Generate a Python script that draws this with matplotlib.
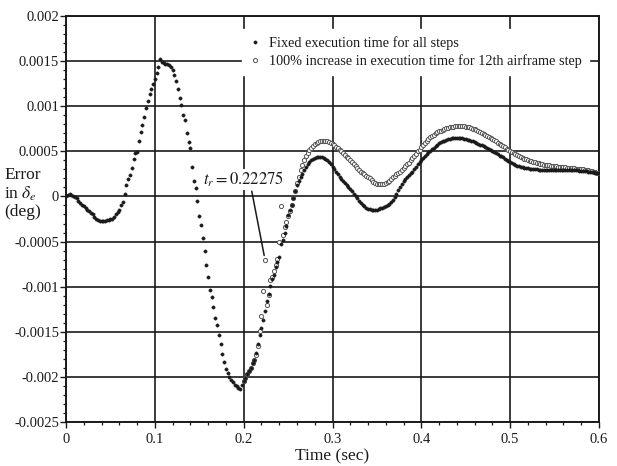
import numpy as np
import matplotlib
matplotlib.use("Agg")
import matplotlib.pyplot as plt

# ---------------- data (values in units of 1e-4 deg) ----------------
t_start_fixed = 0.0
dt = 0.002
fixed_e4 = [
    0.0, 0.15, 0.25, 0.2, 0.1, -0.05, -0.2, -0.45, -0.7, -0.9,
    -1.05, -1.25, -1.45, -1.6, -1.8, -2.0, -2.3, -2.5, -2.65, -2.68,
    -2.7, -2.7, -2.68, -2.66, -2.62, -2.55, -2.45, -2.25, -2.0, -1.75,
    -1.45, -1.0, -0.65, 0.3, 1.3, 1.9, 2.4, 3.1, 4.1, 4.8,
    4.9, 6.2, 7.1, 7.9, 8.8, 9.8, 10.6, 11.3, 11.9, 12.5,
    13.0, 13.7, 14.3, 15.2, 14.9, 14.75, 14.7, 14.65, 14.55, 14.4,
    14.0, 13.5, 12.8, 11.9, 10.9, 10.1, 9.0, 8.5, 7.0, 6.0,
    5.4, 3.3, 1.7, 0.9, -0.5, -2.2, -3.2, -4.6, -6.1, -7.6,
    -8.9, -10.4, -11.1, -12.3, -13.5, -14.3, -15.4, -16.4, -17.5, -18.4,
    -19.1, -19.6, -20.0, -20.3, -20.6, -20.9, -21.0, -21.2, -21.3, -20.9,
    -20.5, -20.1, -19.7, -19.4, -19.0, -18.5, -18.1, -17.4, -16.4, -15.4,
    -14.6, -13.7, -12.7, -11.6, -10.8, -9.9, -9.1, -8.7, -7.8, -7.3,
    -6.7, -5.3, -4.8, -4.1, -3.3, -2.1, -1.5, -0.9, -0.2, 0.6,
    1.3, 1.75, 2.15, 2.5, 2.9, 3.25, 3.55, 3.85, 4.05, 4.15,
    4.25, 4.35, 4.4, 4.42, 4.4, 4.3, 4.2, 4.05, 3.85, 3.55,
    3.3, 3.0, 2.75, 2.45, 2.2, 1.95, 1.7, 1.5, 1.25, 1.05,
    0.8, 0.55, 0.3, 0.05, -0.2, -0.45, -0.7, -0.95, -1.1, -1.25,
    -1.35, -1.42, -1.46, -1.48, -1.48, -1.45, -1.4, -1.33, -1.25, -1.15,
    -1.1, -0.95, -0.8, -0.6, -0.4, -0.05, 0.3, 0.7, 1.1, 1.4,
    1.7, 1.95, 2.15, 2.35, 2.55, 2.75, 3.0, 3.3, 3.55, 3.85,
    4.05, 4.3, 4.5, 4.7, 4.9, 5.05, 5.25, 5.4, 5.6, 5.75,
    5.9, 6.0, 6.1, 6.2, 6.3, 6.35, 6.4, 6.45, 6.48, 6.5,
    6.5, 6.5, 6.48, 6.45, 6.4, 6.35, 6.3, 6.25, 6.15, 6.1,
    6.05, 5.95, 5.85, 5.75, 5.65, 5.55, 5.45, 5.35, 5.25, 5.1,
    5.0, 4.9, 4.8, 4.65, 4.5, 4.45, 4.35, 4.2, 4.05, 3.9,
    3.8, 3.7, 3.6, 3.5, 3.42, 3.35, 3.3, 3.25, 3.2, 3.15,
    3.1, 3.08, 3.05, 3.03, 3.0, 3.0, 2.98, 2.98, 2.97, 2.97,
    2.97, 2.97, 2.97, 2.98, 2.98, 2.98, 2.98, 2.98, 2.98, 2.97,
    2.97, 2.96, 2.95, 2.95, 2.94, 2.93, 2.92, 2.9, 2.88, 2.86,
    2.84, 2.82, 2.8, 2.77, 2.75, 2.72, 2.7, 2.67, 2.64, 2.62,
    2.6,
]

t_start_incr = 0.200
incr_e4 = [
    -20.5, -20.1, -19.7, -19.4, -19.0, -18.5, -18.1, -17.6, -16.6, -14.9,
    -13.3, -10.5, -7.0, -12.0, -10.9, -9.3, -8.9, -8.3, -7.6, -6.9,
    -5.0, -1.1, -4.3, -3.4, -2.8, -2.2, -1.6, -1.0, -0.2, 0.6,
    1.5, 2.2, 2.9, 3.5, 4.0, 4.45, 4.8, 5.1, 5.35, 5.6,
    5.8, 5.95, 6.05, 6.1, 6.15, 6.2, 6.2, 6.15, 6.05, 5.95,
    5.8, 5.65, 5.5, 5.35, 5.15, 5.0, 4.8, 4.6, 4.4, 4.25,
    4.0, 3.8, 3.6, 3.35, 3.15, 2.95, 2.75, 2.6, 2.45, 2.3,
    2.2, 2.0, 1.8, 1.6, 1.5, 1.4, 1.37, 1.37, 1.4, 1.43,
    1.48, 1.6, 1.75, 1.95, 2.1, 2.3, 2.45, 2.6, 2.75, 2.95,
    3.15, 3.35, 3.55, 3.75, 4.0, 4.25, 4.5, 4.75, 5.0, 5.2,
    5.45, 5.7, 5.95, 6.15, 6.35, 6.55, 6.7, 6.85, 7.0, 7.1,
    7.2, 7.3, 7.4, 7.5, 7.55, 7.6, 7.65, 7.7, 7.75, 7.8,
    7.82, 7.83, 7.83, 7.8, 7.78, 7.75, 7.7, 7.65, 7.6, 7.52,
    7.45, 7.35, 7.25, 7.15, 7.05, 6.95, 6.85, 6.72, 6.6, 6.47,
    6.35, 6.22, 6.1, 5.95, 5.82, 5.7, 5.57, 5.45, 5.3, 5.18,
    5.05, 4.93, 4.82, 4.7, 4.6, 4.5, 4.4, 4.3, 4.2, 4.12,
    4.05, 3.97, 3.9, 3.83, 3.77, 3.71, 3.66, 3.6, 3.56, 3.52,
    3.5, 3.47, 3.44, 3.41, 3.38, 3.35, 3.33, 3.31, 3.29, 3.27,
    3.25, 3.23, 3.2, 3.18, 3.15, 3.13, 3.1, 3.08, 3.06, 3.04,
    3.02, 3.0, 2.97, 2.94, 2.9, 2.85, 2.8, 2.74, 2.68, 2.63,
    2.6,
]
spike_index = 12          # the point labelled t_r
label_fixed = "Fixed execution time for all steps"
label_incr = "100% increase in execution time for 12th airframe step"
annot_text = r"$t_r = 0.22275$"

xticks = [0, 0.1, 0.2, 0.3, 0.4, 0.5, 0.6]
xtick_labels = ["0", "0.1", "0.2", "0.3", "0.4", "0.5", "0.6"]
yticks = [0.002, 0.0015, 0.001, 0.0005, 0, -0.0005, -0.001, -0.0015, -0.002, -0.0025]
ytick_labels = ["0.002", "0.0015", "0.001", "0.0005", "0", "-0.0005",
                "-0.001", "-0.0015", "-0.002", "-0.0025"]

# ---------------- plotting ----------------
plt.rcParams['font.family'] = ['Liberation Serif', 'DejaVu Serif']
plt.rcParams['mathtext.fontset'] = 'stix'

fixed = np.array(fixed_e4) * 1e-4
incr = np.array(incr_e4) * 1e-4
t_fixed = t_start_fixed + dt * np.arange(len(fixed))
t_incr = t_start_incr + dt * np.arange(len(incr))

fig = plt.figure(figsize=(6.17, 4.66), dpi=100)
ax = fig.add_axes([66 / 617, 1 - 422 / 466, 533 / 617, 406 / 466])

ink = '#1a1a1a'
ax.plot(t_incr, incr, linestyle='none', marker='o', ms=3.0, mfc='white',
        mec='#555555', mew=0.7, label=label_incr, zorder=3)
ax.plot(t_fixed, fixed, linestyle='none', marker='o', ms=2.4, mfc=ink,
        mec=ink, mew=0.3, label=label_fixed, zorder=4)

ax.set_xlim(0, 0.6)
ax.set_ylim(-0.0025, 0.002)
ax.set_xticks(xticks, xtick_labels)
ax.set_yticks(yticks, ytick_labels)
ax.set_xticks(np.arange(0, 0.6001, 0.02), minor=True)
ax.set_yticks(np.arange(-0.0025, 0.00201, 0.0001), minor=True)
ax.tick_params(which='major', direction='out', length=4, width=1.0,
               labelsize=10.5, colors=ink, pad=1)
ax.tick_params(axis='x', which='major', pad=4)
ax.tick_params(which='minor', direction='out', length=2.5, width=0.9, colors=ink)
ax.grid(True, which='major', color=ink, linewidth=1.2)
for s in ax.spines.values():
    s.set_color(ink)
    s.set_linewidth(1.4)
ax.set_axisbelow(True)

handles, labels = ax.get_legend_handles_labels()
leg = ax.legend(handles[::-1], labels[::-1], loc='upper right',
                bbox_to_anchor=(0.995, 0.985), frameon=True, fancybox=False,
                edgecolor='white', facecolor='white', framealpha=1.0,
                numpoints=1, handlelength=0.8, handletextpad=0.6,
                borderpad=0.5, labelspacing=0.3, fontsize=10.3,
                markerscale=1.0)
leg.set_zorder(5)
for txt in leg.get_texts():
    txt.set_color(ink)

ax.annotate(annot_text, xy=(t_incr[spike_index], incr[spike_index]),
            xytext=(0.1995, 0.00019), textcoords='data', ha='center', va='center',
            fontsize=12, color=ink,
            arrowprops=dict(arrowstyle='-', color=ink, lw=1.1, shrinkA=1, shrinkB=3,
                            relpos=(0.6, 0.0)),
            zorder=6,
            bbox=dict(boxstyle='square,pad=0.05', fc='white', ec='none'))

ax.set_xlabel("Time (sec)", fontsize=12.5, color=ink, labelpad=2)
fig.text(4 / 617, 1 - 175 / 466, "Error", fontsize=12.5, color=ink, va='center', ha='left')
fig.text(4 / 617, 1 - 194 / 466, r"in $\delta_e$", fontsize=12.5, color=ink, va='center', ha='left')
fig.text(4 / 617, 1 - 212 / 466, "(deg)", fontsize=12.5, color=ink, va='center', ha='left')

fig.savefig("out.png", dpi=100, facecolor='white')
